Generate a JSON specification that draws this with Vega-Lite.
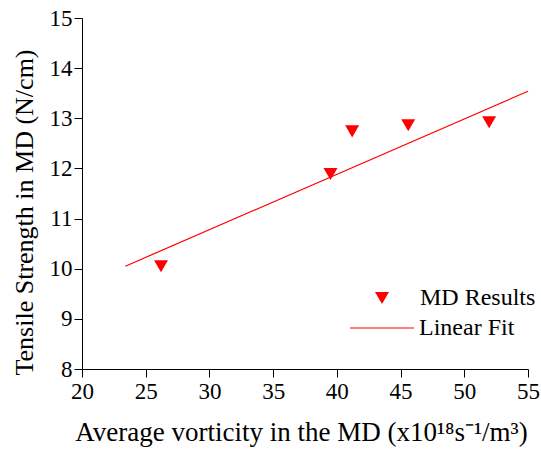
{
  "$schema": "https://vega.github.io/schema/vega-lite/v6.json",
  "autosize": "none",
  "width": 446,
  "height": 351,
  "padding": {"left": 82, "top": 18, "right": 13, "bottom": 83},
  "background": "white",
  "config": {
    "view": {"stroke": null},
    "font": "Liberation Serif",
    "style": {"guide-label": {"font": "Liberation Serif"}, "guide-title": {"font": "Liberation Serif"}},
    "legend": {"padding": 0},
    "axis": {"grid": false, "domainColor": "black", "tickColor": "black", "labelColor": "black", "titleColor": "black", "labelFont": "Liberation Serif", "titleFont": "Liberation Serif", "labelFontSize": 23, "titleFontSize": 26, "titleFontWeight": "normal", "domainWidth": 1, "tickWidth": 1, "tickSize": 8}
  },
  "datasets": {
    "points": [
      {"x": 26.2, "y": 10.05, "series": "MD Results"},
      {"x": 39.5, "y": 11.89, "series": "MD Results"},
      {"x": 41.2, "y": 12.74, "series": "MD Results"},
      {"x": 45.6, "y": 12.86, "series": "MD Results"},
      {"x": 51.95, "y": 12.92, "series": "MD Results"}
    ],
    "fit": [
      {"x": 23.4, "y": 10.05, "series": "Linear Fit"},
      {"x": 55, "y": 13.54, "series": "Linear Fit"}
    ]
  },
  "layer": [
    {
      "data": {"name": "fit"},
      "mark": {"type": "line", "strokeWidth": 1.2},
      "encoding": {
        "x": {"field": "x", "type": "quantitative", "scale": {"domain": [20, 55], "nice": false, "zero": false},
          "axis": {"title": "Average vorticity in the MD (x10¹⁸s⁻¹/m³)", "values": [20, 22.5, 25, 27.5, 30, 32.5, 35, 37.5, 40, 42.5, 45, 47.5, 50, 52.5, 55],
            "labelExpr": "datum.value % 5 === 0 ? datum.label : ''",
            "labelFont": "Liberation Serif", "titleFont": "Liberation Serif", "titleFontSize": 27,
            "labelPadding": 3, "titleY": 71, "titleX": 219, "titleBaseline": "alphabetic", "labelFlush": false, "labelOverlap": false,
            "encode": {"ticks": {"update": {"y2": {"signal": "datum.value % 5 === 0 ? 8 : 4"}}}, "labels": {"update": {"font": {"value": "Liberation Serif"}}}}}},
        "y": {"field": "y", "type": "quantitative", "scale": {"domain": [8, 15], "nice": false, "zero": false},
          "axis": {"title": "Tensile Strength in MD (N/cm)", "values": [8, 8.5, 9, 9.5, 10, 10.5, 11, 11.5, 12, 12.5, 13, 13.5, 14, 14.5, 15],
            "labelExpr": "datum.value % 1 === 0 ? datum.label : ''",
            "labelFont": "Liberation Serif", "titleFont": "Liberation Serif",
            "labelPadding": 2, "titleX": -50, "titleY": 194, "titleBaseline": "alphabetic", "labelOverlap": false, "labelFlush": false,
            "encode": {"ticks": {"update": {"x2": {"signal": "datum.value % 1 === 0 ? -8 : -4"}}}, "labels": {"update": {"font": {"value": "Liberation Serif"}}}}}},
        "color": {"field": "series", "type": "nominal", "scale": {"domain": ["Linear Fit"], "range": ["#ff0000"]},
          "legend": {"title": null, "orient": "none", "legendX": 267, "legendY": 277, "symbolType": "stroke", "symbolSize": 4096, "symbolStrokeWidth": 1.2, "labelFont": "Liberation Serif", "labelFontSize": 24, "labelColor": "black", "labelOffset": 4, "padding": 0}}
      }
    },
    {
      "data": {"name": "points"},
      "mark": {"type": "point", "filled": true, "color": "#ff0000", "opacity": 1, "size": 196},
      "encoding": {
        "x": {"field": "x", "type": "quantitative"},
        "y": {"field": "y", "type": "quantitative"},
        "shape": {"field": "series", "type": "nominal",
          "scale": {"domain": ["MD Results"], "range": ["triangle-down"]},
          "legend": {"title": null, "orient": "none", "legendX": 288, "legendY": 268, "labelFont": "Liberation Serif", "labelFontSize": 24, "labelColor": "black", "symbolSize": 196, "symbolFillColor": "#ff0000", "symbolStrokeColor": "#ff0000", "symbolOpacity": 1, "labelOffset": 26, "padding": 0}
        }
      }
    }
  ]
}
